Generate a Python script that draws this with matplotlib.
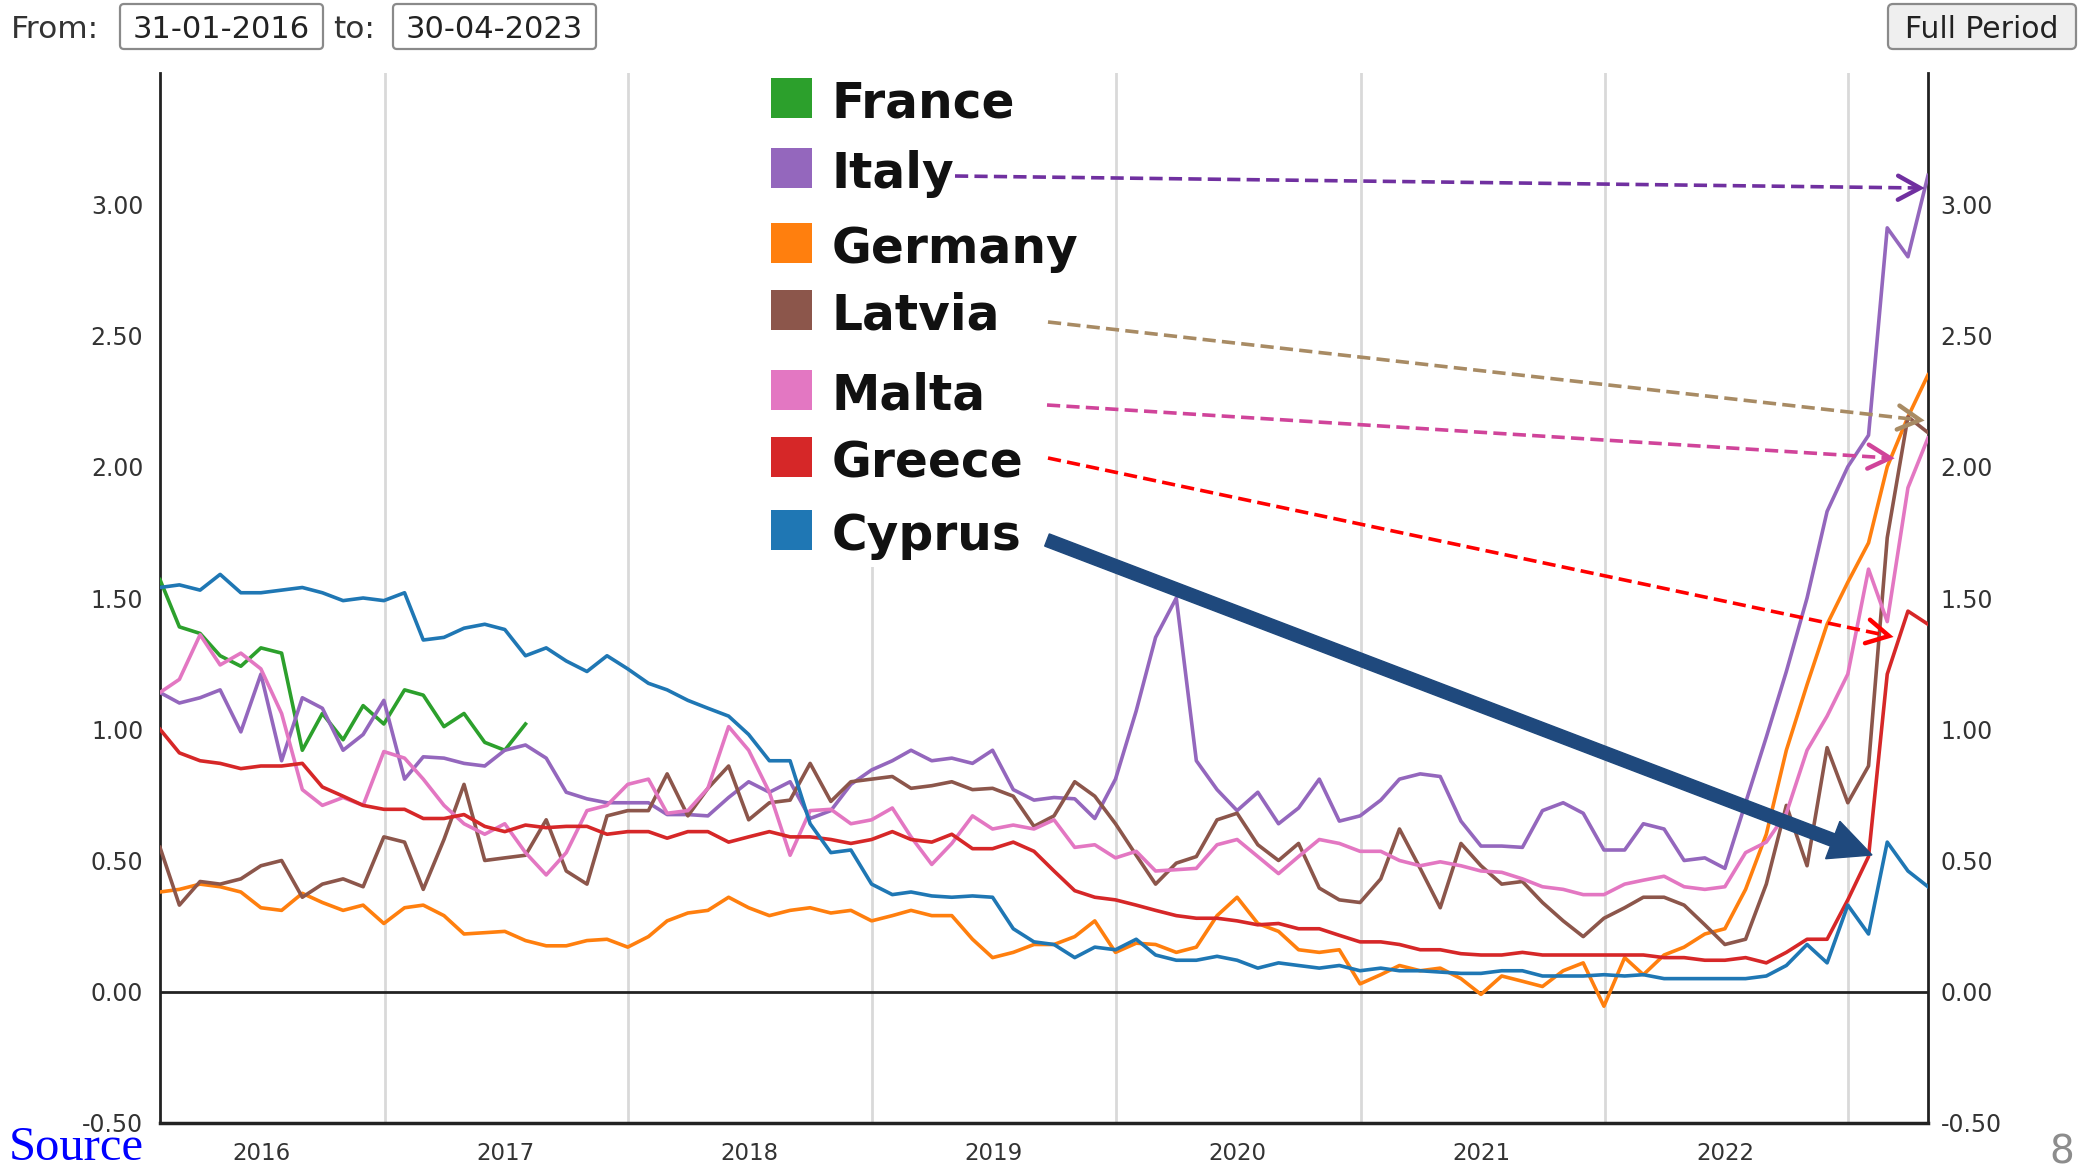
import numpy as np
import pandas as pd
import matplotlib
matplotlib.use('Agg')
import matplotlib.pyplot as plt
from matplotlib.patches import Rectangle, FancyBboxPatch, FancyArrow
from matplotlib.lines import Line2D
from matplotlib.transforms import IdentityTransform
import datetime as dt

plt.rcParams['lines.scale_dashes'] = False
plt.rcParams['font.family'] = ['DejaVu Sans']

# ---------------- data (monthly, Jan 2016 - Apr 2023) ----------------
dates = pd.date_range('2016-01-31', periods=88, freq='ME').to_pydatetime()

france = [1.57, 1.39, 1.365, 1.28, 1.24, 1.31, 1.29, 0.92, 1.06, 0.96, 1.09, 1.02,
          1.15, 1.13, 1.01, 1.06, 0.95, 0.92, 1.02]

italy = [1.14, 1.10, 1.12, 1.15, 0.99, 1.21, 0.88, 1.12, 1.08, 0.92, 0.98, 1.11,
         0.81, 0.895, 0.89, 0.87, 0.86, 0.92, 0.94, 0.89, 0.76, 0.735, 0.72, 0.72,
         0.72, 0.675, 0.675, 0.67, 0.74, 0.80, 0.76, 0.80, 0.66, 0.69, 0.79, 0.845,
         0.88, 0.92, 0.88, 0.89, 0.87, 0.92, 0.77, 0.73, 0.74, 0.735, 0.66, 0.81,
         1.07, 1.35, 1.50, 0.88, 0.77, 0.69, 0.76, 0.64, 0.70, 0.81, 0.65, 0.67,
         0.73, 0.81, 0.83, 0.82, 0.65, 0.555, 0.555, 0.55, 0.69, 0.72, 0.68, 0.54,
         0.54, 0.64, 0.62, 0.50, 0.51, 0.47, 0.72, 0.97, 1.22, 1.50, 1.83, 2.00,
         2.12, 2.91, 2.80, 3.11]

germany = [0.38, 0.39, 0.41, 0.40, 0.38, 0.32, 0.31, 0.375, 0.34, 0.31, 0.33, 0.26,
           0.32, 0.33, 0.29, 0.22, 0.225, 0.23, 0.195, 0.175, 0.175, 0.195, 0.20, 0.17,
           0.21, 0.27, 0.30, 0.31, 0.36, 0.32, 0.29, 0.31, 0.32, 0.30, 0.31, 0.27,
           0.29, 0.31, 0.29, 0.29, 0.20, 0.13, 0.15, 0.18, 0.18, 0.21, 0.27, 0.15,
           0.185, 0.18, 0.15, 0.17, 0.29, 0.36, 0.26, 0.23, 0.16, 0.15, 0.16, 0.03,
           0.065, 0.10, 0.08, 0.09, 0.05, -0.01, 0.06, 0.04, 0.02, 0.08, 0.11, -0.055,
           0.13, 0.065, 0.14, 0.17, 0.22, 0.24, 0.39, 0.60, 0.92, 1.17, 1.40, 1.56,
           1.71, 2.00, 2.19, 2.35]

latvia = [0.55, 0.33, 0.42, 0.41, 0.43, 0.48, 0.50, 0.36, 0.41, 0.43, 0.40, 0.59,
          0.57, 0.39, 0.58, 0.79, 0.50, 0.51, 0.52, 0.655, 0.46, 0.41, 0.67, 0.69,
          0.69, 0.83, 0.67, 0.775, 0.86, 0.655, 0.72, 0.73, 0.87, 0.725, 0.80, 0.81,
          0.82, 0.775, 0.785, 0.80, 0.77, 0.775, 0.745, 0.63, 0.67, 0.80, 0.745, 0.64,
          0.52, 0.41, 0.49, 0.515, 0.655, 0.68, 0.56, 0.50, 0.565, 0.395, 0.35, 0.34,
          0.43, 0.62, 0.47, 0.32, 0.565, 0.48, 0.41, 0.42, 0.34, 0.27, 0.21, 0.28,
          0.32, 0.36, 0.36, 0.33, 0.255, 0.18, 0.20, 0.41, 0.71, 0.48, 0.93, 0.72,
          0.86, 1.73, 2.19, 2.13]

malta = [1.14, 1.19, 1.36, 1.245, 1.29, 1.23, 1.06, 0.77, 0.71, 0.74, 0.71, 0.915,
         0.89, 0.81, 0.71, 0.64, 0.60, 0.64, 0.53, 0.445, 0.53, 0.69, 0.71, 0.79,
         0.81, 0.68, 0.69, 0.775, 1.01, 0.92, 0.76, 0.52, 0.69, 0.695, 0.64, 0.655,
         0.70, 0.59, 0.485, 0.565, 0.67, 0.62, 0.635, 0.62, 0.655, 0.55, 0.56, 0.51,
         0.535, 0.46, 0.465, 0.47, 0.56, 0.58, 0.515, 0.45, 0.515, 0.58, 0.565, 0.535,
         0.535, 0.50, 0.48, 0.495, 0.48, 0.46, 0.455, 0.43, 0.40, 0.39, 0.37, 0.37,
         0.41, 0.425, 0.44, 0.40, 0.39, 0.40, 0.53, 0.57, 0.68, 0.92, 1.05, 1.21,
         1.61, 1.41, 1.92, 2.11]

greece = [1.00, 0.91, 0.88, 0.87, 0.85, 0.86, 0.86, 0.87, 0.78, 0.745, 0.71, 0.695,
          0.695, 0.66, 0.66, 0.675, 0.63, 0.61, 0.635, 0.625, 0.63, 0.63, 0.60, 0.61,
          0.61, 0.585, 0.61, 0.61, 0.57, 0.59, 0.61, 0.59, 0.59, 0.58, 0.565, 0.58,
          0.61, 0.58, 0.57, 0.60, 0.545, 0.545, 0.57, 0.535, 0.46, 0.385, 0.36, 0.35,
          0.33, 0.31, 0.29, 0.28, 0.28, 0.27, 0.255, 0.26, 0.24, 0.24, 0.215, 0.19,
          0.19, 0.18, 0.16, 0.16, 0.145, 0.14, 0.14, 0.15, 0.14, 0.14, 0.14, 0.14,
          0.14, 0.14, 0.13, 0.13, 0.12, 0.12, 0.13, 0.11, 0.15, 0.20, 0.20, 0.35,
          0.515, 1.21, 1.45, 1.40]

cyprus = [1.54, 1.55, 1.53, 1.59, 1.52, 1.52, 1.53, 1.54, 1.52, 1.49, 1.50, 1.49,
          1.52, 1.34, 1.35, 1.385, 1.40, 1.38, 1.28, 1.31, 1.26, 1.22, 1.28, 1.23,
          1.175, 1.15, 1.11, 1.08, 1.05, 0.98, 0.88, 0.88, 0.64, 0.53, 0.54, 0.41,
          0.37, 0.38, 0.365, 0.36, 0.365, 0.36, 0.24, 0.19, 0.18, 0.13, 0.17, 0.16,
          0.20, 0.14, 0.12, 0.12, 0.135, 0.12, 0.09, 0.11, 0.10, 0.09, 0.10, 0.08,
          0.09, 0.08, 0.08, 0.075, 0.07, 0.07, 0.08, 0.08, 0.06, 0.06, 0.06, 0.065,
          0.06, 0.065, 0.05, 0.05, 0.05, 0.05, 0.05, 0.06, 0.10, 0.18, 0.11, 0.33,
          0.22, 0.57, 0.46, 0.40]

countries = ['France', 'Italy', 'Germany', 'Latvia', 'Malta', 'Greece', 'Cyprus']
series = [france, italy, germany, latvia, malta, greece, cyprus]
colors = ['#2ca02c', '#9467bd', '#ff7f0e', '#8c564b', '#e377c2', '#d62728', '#1f77b4']

y_ticks = [-0.5, 0.0, 0.5, 1.0, 1.5, 2.0, 2.5, 3.0]
year_labels = ['2016', '2017', '2018', '2019', '2020', '2021', '2022']

# ---------------- figure ----------------
W, H = 2091, 1171
fig = plt.figure(figsize=(W / 100, H / 100), dpi=100)
PX = IdentityTransform()


def fy(y):
    return H - y


ax = fig.add_axes([160 / W, (H - 1123) / H, (1928 - 160) / W, (1123 - 73) / H])

for name, vals, col in zip(countries, series, colors):
    ax.plot(dates[:len(vals)], vals, color=col, lw=2.6, zorder=3, solid_joinstyle='round')

ax.set_xlim(dt.datetime(2016, 1, 31), dt.datetime(2023, 4, 30))
ax.set_ylim(-0.5, 3.5)
ax.set_yticks(y_ticks)
ax.set_yticklabels([f'{v:.2f}' for v in y_ticks])
ax.set_xticks([dt.datetime(int(y), 7, 1) for y in year_labels])
ax.set_xticklabels(year_labels)
ax.set_xticks([dt.datetime(y, 1, 1) for y in range(2017, 2024)], minor=True)
ax.grid(False)
ax.grid(True, which='minor', axis='x', color='#d9d9d9', lw=2, zorder=1)
ax.tick_params(axis='both', which='both', length=0)
ax.tick_params(axis='y', labelsize=17, labelcolor='#333333', pad=12)
ax.tick_params(axis='x', labelsize=16.5, labelcolor='#333333', pad=14)
ax.axhline(0, color='#222222', lw=2, zorder=2)
ax.spines['top'].set_visible(False)
for s in ['left', 'right']:
    ax.spines[s].set_color('#222222')
    ax.spines[s].set_linewidth(2)
ax.spines['bottom'].set_color('#222222')
ax.spines['bottom'].set_linewidth(2.5)

ax2 = ax.twinx()
ax2.set_ylim(-0.5, 3.5)
ax2.set_yticks(y_ticks)
ax2.set_yticklabels([f'{v:.2f}' for v in y_ticks])
ax2.tick_params(axis='y', length=0, labelsize=17, labelcolor='#333333', pad=9)
for s in ax2.spines.values():
    s.set_visible(False)

# legend background (white box covering gridline)
fig.add_artist(Rectangle((760, fy(567)), 285, 567 - 60, transform=PX,
                         fc='white', ec='none', zorder=2.5))

# ---------------- legend ----------------
sq_tops = [78, 148, 223, 290, 370, 437, 510]
for name, col, top in zip(countries, colors, sq_tops):
    fig.add_artist(Rectangle((771, fy(top + 40)), 41, 40, transform=PX,
                             fc=col, ec='none', zorder=6))
    fig.text(832 / W, fy(top + 40) / H, name, fontsize=35, fontweight='bold',
             color='#111111', ha='left', va='baseline', zorder=6)


# ---------------- arrows ----------------
def dashed_arrow(x0, y0, x1, y1, color, lw=2.6):
    X0, Y0, X1, Y1 = x0, fy(y0), x1, fy(y1)
    fig.add_artist(Line2D([X0, X1], [Y0, Y1], transform=PX, color=color, lw=lw,
                          dashes=(9.5, 4.5), zorder=10))
    d = np.array([X1 - X0, Y1 - Y0], dtype=float)
    u = d / np.hypot(*d)
    n = np.array([-u[1], u[0]])
    L, Wd = 22, 12
    tip = np.array([X1, Y1])
    p1 = tip - L * u + Wd * n
    p2 = tip - L * u - Wd * n
    fig.add_artist(Line2D([p1[0], X1, p2[0]], [p1[1], Y1, p2[1]], transform=PX,
                          color=color, lw=lw + 0.6, solid_joinstyle='miter',
                          solid_capstyle='round', zorder=10))


dashed_arrow(955, 176, 1920, 188, '#7030A0')
dashed_arrow(1048, 322, 1920, 420, '#A88B64')
dashed_arrow(1047, 405, 1890, 458, '#D0449A')
dashed_arrow(1048, 458, 1889, 636, '#FF0000')

x0, y0, x1, y1 = 1047, 540, 1872, 855
fig.add_artist(FancyArrow(x0, fy(y0), x1 - x0, fy(y1) - fy(y0), width=13,
                          head_width=40, head_length=42, length_includes_head=True,
                          color='#1F497D', transform=PX, zorder=11))

# ---------------- top controls ----------------
for (bx, bw, txt) in [(120, 203, '31-01-2016'), (393, 203, '30-04-2023')]:
    fig.add_artist(FancyBboxPatch((bx, fy(49)), bw, 45, boxstyle='round,pad=0,rounding_size=4',
                                  transform=PX, fc='white', ec='#8a8a8a', lw=1.6))
    fig.text((bx + bw / 2) / W, fy(38) / H, txt, fontsize=22, color='#222222',
             ha='center', va='baseline')
fig.text(11 / W, fy(38) / H, 'From:', fontsize=22.5, color='#333333', ha='left', va='baseline')
fig.text(333 / W, fy(38) / H, 'to:', fontsize=22.5, color='#333333', ha='left', va='baseline')
fig.add_artist(FancyBboxPatch((1888, fy(49)), 188, 45, boxstyle='round,pad=0,rounding_size=5',
                              transform=PX, fc='#efefef', ec='#8a8a8a', lw=1.6))
fig.text(1982 / W, fy(38) / H, 'Full Period', fontsize=21.5, color='#222222',
         ha='center', va='baseline')

# ---------------- footer ----------------
fig.text(9 / W, fy(1170) / H, 'Source', fontsize=35, family='Liberation Serif',
         color='#0000FF', ha='left', va='bottom')
fig.text(2074 / W, fy(1164) / H, '8', fontsize=28, family='DejaVu Sans',
         color='#8c8c8c', ha='right', va='baseline')

fig.savefig('out.png', dpi=100)
